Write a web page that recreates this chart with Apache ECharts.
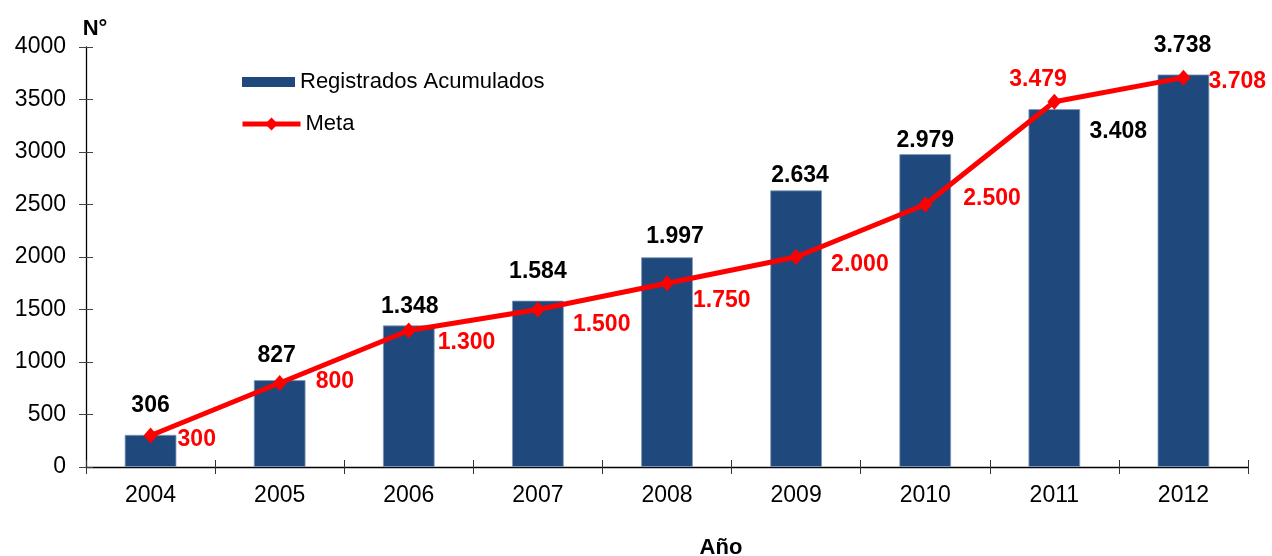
<!DOCTYPE html>
<html>
<head>
<meta charset="utf-8">
<script src="https://cdn.jsdelivr.net/npm/echarts@6/dist/echarts.min.js"></script>
<style>
html,body{margin:0;padding:0;background:#fff;}
#chart{width:1272px;height:556px;}
</style>
</head>
<body>
<div id="chart"></div>
<script>
// ---- Data ----
const years = ['2004','2005','2006','2007','2008','2009','2010','2011','2012'];
const registrados = [306, 827, 1348, 1584, 1997, 2634, 2979, 3408, 3738];
const meta = [300, 800, 1300, 1500, 1750, 2000, 2500, 3479, 3708];
const yTicks = [0, 500, 1000, 1500, 2000, 2500, 3000, 3500, 4000];

// ---- Label placement (style, not data) ----
const barLabelOffsets = [[0,-18],[-3,-13],[1,-7],[0,-18],[8,-9],[4,-3],[0,-2],[64,34],[-1,-17]];
const metaLabelOffsets = [[27,4],[36,-1],[29,12],[35,15],[26,17],[35,8],[38,-6],[-45,-22],[25,4]];

const fmt = v => v >= 1000 ? String(v).replace(/\B(?=(\d{3})+(?!\d))/g, '.') : String(v);
const FONT = '"Liberation Sans", Arial, sans-serif';

const chart = echarts.init(document.getElementById('chart'), null, {renderer:'canvas'});

const legendText = { fontFamily: FONT, fontSize: 22, color: '#000' };

const option = {
  animation: false,
  backgroundColor: '#ffffff',
  textStyle: { fontFamily: FONT },
  title: [
    { text: 'N°', left: 90, top: 13, textAlign: 'center',
      textStyle: { fontFamily: FONT, fontSize: 22, fontWeight: 'bold', color: '#000' } },
    { text: 'Año', left: 716, top: 532, textAlign: 'center',
      textStyle: { fontFamily: FONT, fontSize: 22, fontWeight: 'bold', color: '#000' } }
  ],
  legend: [
    {
      orient: 'vertical', left: 237, top: 66,
      itemWidth: 53, itemHeight: 10,
      textStyle: legendText,
      data: [{ name: 'Registrados Acumulados', icon: 'rect', itemStyle: { borderWidth: 0 } }]
    },
    {
      orient: 'vertical', left: 235, top: 108,
      itemWidth: 58, itemHeight: 16,
      textStyle: legendText,
      data: [{ name: 'Meta', lineStyle: { width: 5 } }]
    }
  ],
  grid: { left: 86, right: 24, top: 47, bottom: 89, containLabel: false },
  xAxis: [
    {
      type: 'category',
      data: years,
      boundaryGap: true,
      axisLine: { show: true, lineStyle: { color: '#000', width: 1.3 } },
      axisTick: { show: true, alignWithLabel: false, length: 7, lineStyle: { color: '#333' } },
      axisLabel: { margin: 17, fontSize: 23, color: '#000', fontFamily: FONT },
      splitLine: { show: false }
    },
    {
      type: 'category',
      data: years,
      position: 'bottom',
      boundaryGap: true,
      axisLine: { show: false },
      axisTick: { show: true, inside: true, alignWithLabel: false, length: 7, lineStyle: { color: '#333' } },
      axisLabel: { show: false },
      splitLine: { show: false }
    }
  ],
  yAxis: [
    {
      type: 'value',
      min: 0, max: 4000, interval: 500,
      axisLine: { show: true, lineStyle: { color: '#000', width: 1.3 } },
      axisTick: { show: true, length: 7, lineStyle: { color: '#444' } },
      axisLabel: { margin: 20, fontSize: 23, color: '#000', fontFamily: FONT,
        formatter: v => yTicks.includes(v) ? String(v) : '' },
      splitLine: { show: false }
    },
    {
      type: 'value',
      position: 'left',
      min: 0, max: 4000, interval: 500,
      axisLine: { show: false },
      axisTick: { show: true, inside: true, length: 7, lineStyle: { color: '#444' } },
      axisLabel: { show: false },
      splitLine: { show: false }
    }
  ],
  series: [
    {
      name: 'Registrados Acumulados',
      type: 'bar',
      barWidth: '40%',
      itemStyle: { color: '#1F497D', borderColor: '#8098BA', borderWidth: 0.8 },
      data: registrados.map((v, i) => ({
        value: v,
        label: { offset: barLabelOffsets[i] }
      })),
      label: {
        show: true, position: 'top', distance: 0,
        fontFamily: FONT, fontSize: 23, fontWeight: 'bold', color: '#000',
        formatter: p => fmt(p.value)
      },
      z: 2
    },
    {
      name: 'Meta',
      type: 'line',
      symbol: 'diamond',
      symbolSize: [14, 16],
      lineStyle: { color: '#FF0000', width: 5 },
      itemStyle: { color: '#FF0000' },
      data: meta.map((v, i) => ({
        value: v,
        label: { offset: metaLabelOffsets[i] }
      })),
      label: {
        show: true, position: 'inside', align: 'left', verticalAlign: 'middle',
        fontFamily: FONT, fontSize: 23, fontWeight: 'bold', color: '#FF0000',
        formatter: p => fmt(p.value)
      },
      z: 3
    }
  ]
};
chart.setOption(option);
</script>
</body>
</html>
